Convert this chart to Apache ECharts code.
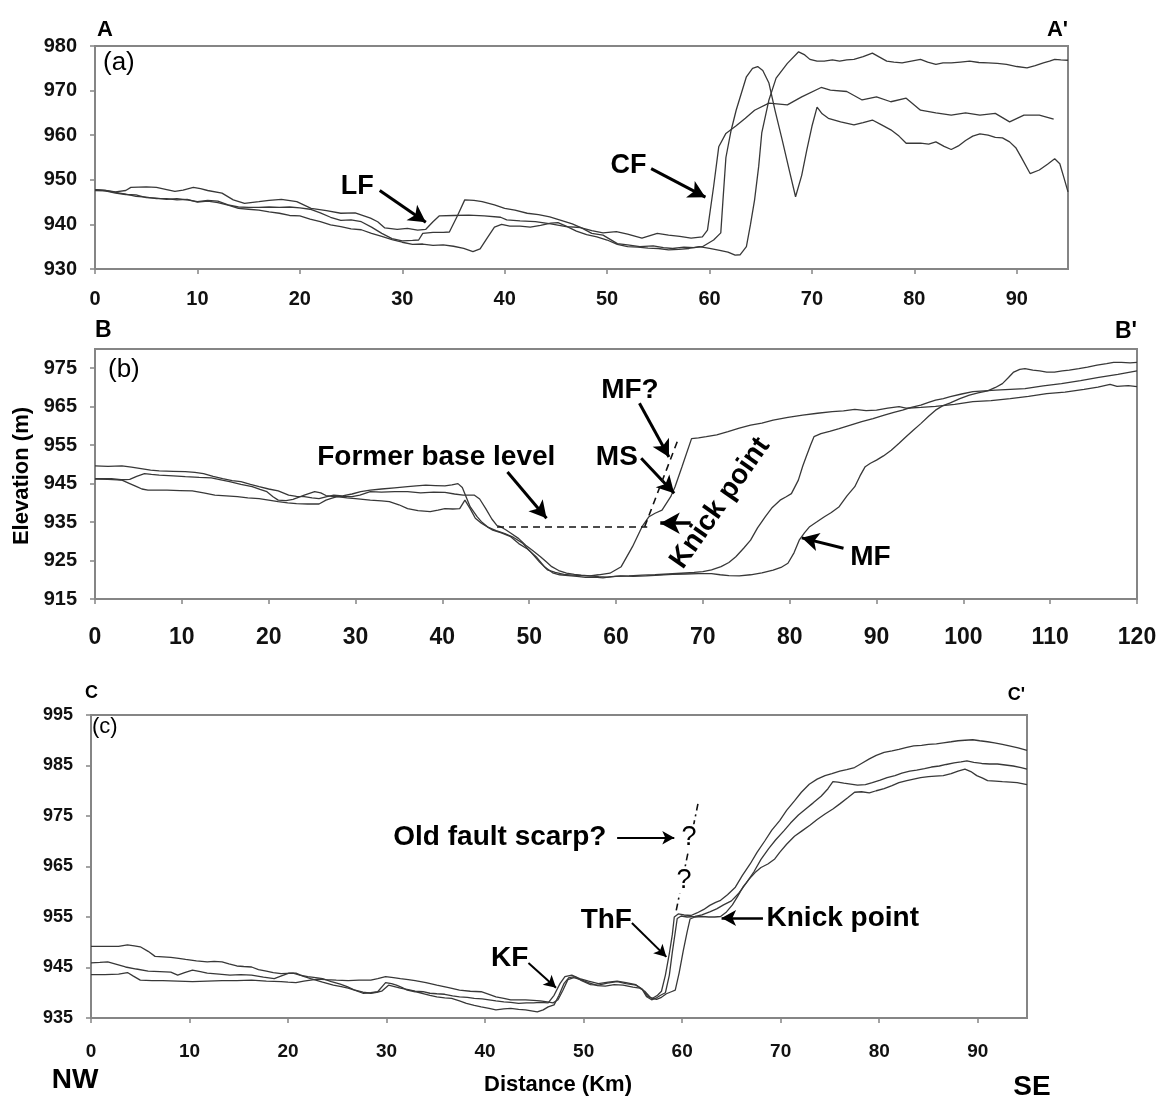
<!DOCTYPE html>
<html>
<head>
<meta charset="utf-8">
<script src="https://cdn.jsdelivr.net/npm/echarts@6/dist/echarts.min.js"></script>
<style>
  html, body { margin: 0; padding: 0; background: #fff; }
  #chart { width: 1160px; height: 1106px; }
</style>
</head>
<body>
<div id="chart"></div>
<script>
// Topographic profiles A-A', B-B', C-C' : [distance (km), elevation (m)]
const profileA1 = [[0,947.8],[1,947.6],[2,947.3],[3,947.6],[3.5,948.3],[5,948.4],[6,948.3],[7,947.8],[7.8,947.4],[8.6,947.7],[9.6,948.3],[10.3,948.0],[11,947.6],[12.4,947.0],[13.5,945.5],[14.6,944.7],[16,945.1],[17,945.4],[18.2,945.6],[19.7,945.1],[21.1,943.6],[22.6,943.1],[24,942.5],[25.4,942.6],[26.9,941.4],[27.6,940.6],[28.3,939.2],[29.5,938.9],[30.5,939.1],[31.5,938.7],[32.3,938.9],[33,940.6],[33.6,941.9],[35,942.0],[36.5,942.1],[38,941.9],[39.6,941.6],[40.2,941.0],[41.5,940.8],[43,940.6],[44.5,940.1],[46,939.5],[47.4,939.3],[48.5,938.6],[49.6,938.1],[50.9,938.4],[52,937.8],[53.4,936.9],[54.9,938.0],[56,937.6],[57.1,937.3],[58.2,936.9],[59.3,937.2],[59.8,938.7],[60.4,948.5],[60.9,957.4],[61.6,960.4],[62.6,962.1],[63.5,963.8],[64.4,965.6],[65.8,967.2],[67.6,966.8],[69.0,968.6],[70.9,970.7],[71.8,970.1],[73.4,969.8],[74.9,967.9],[76.3,968.6],[77.7,967.5],[79.2,968.3],[80.6,965.6],[82.1,965.0],[83.6,964.5],[85.0,965.0],[86.4,964.5],[87.9,964.9],[89.3,963.0],[90.7,964.5],[92.2,964.5],[93.6,963.6]];
const profileA2 = [[0,947.6],[1,947.5],[2,947.0],[3,946.7],[4,946.6],[5,946.0],[6,945.9],[7,945.6],[8,945.8],[9,945.5],[10,945.1],[11,945.4],[12,945.2],[13,944.4],[14,943.9],[15,943.8],[16,943.8],[17,943.9],[18,943.8],[19,943.9],[20,943.7],[21,943.4],[22,942.6],[23,941.6],[24,940.9],[25,941.0],[26,940.6],[27,939.4],[28,938.0],[29,936.8],[30,936.3],[31,936.4],[31.6,936.5],[32,938.0],[33,938.2],[34,938.2],[34.6,938.3],[35.4,942.0],[36.1,945.5],[37,945.4],[37.8,945.1],[39,944.4],[40,943.6],[41,943.2],[42.2,942.5],[43.3,942.2],[44.4,941.7],[45.5,940.9],[46.6,940.1],[47.6,939.1],[48.5,938.0],[49.6,937.6],[51,935.7],[52,935.4],[53.2,935.0],[54.5,935.2],[55.5,934.8],[56.4,934.6],[57.5,934.9],[58.5,934.8],[59.3,935.0],[60.4,936.5],[61.1,938.1],[61.3,945.0],[61.6,955.0],[62.1,961.0],[62.6,965.6],[63.6,973.1],[64.2,975.0],[64.7,975.4],[65.2,974.5],[65.8,971.7],[66.4,965.5],[67.1,958.9],[67.8,952.0],[68.4,946.2],[69.0,951.0],[69.5,956.7],[70.0,962.0],[70.5,966.3],[71.0,964.8],[71.6,963.8],[72.8,963.0],[74.1,962.3],[75.0,962.8],[75.9,963.4],[76.8,962.3],[77.7,961.2],[78.5,959.8],[79.2,958.2],[80.6,958.2],[81.4,958.0],[82.1,958.5],[82.9,957.5],[83.6,956.8],[84.3,957.6],[85.0,958.8],[85.7,959.8],[86.4,960.3],[87.2,960.0],[87.9,959.5],[88.6,959.4],[89.3,958.5],[89.9,957.2],[90.4,955.2],[91.3,951.4],[92.2,952.2],[93.0,953.5],[93.7,954.7],[94.2,953.6],[94.6,950.5],[95,947.3]];
const profileA3 = [[0,947.8],[1,947.6],[2,947.2],[3,946.8],[4,946.3],[5,946.1],[6,945.8],[7,945.8],[8,945.5],[9,945.6],[10,945.0],[11,945.2],[12,944.9],[13,944.3],[14,943.6],[15,943.4],[16,943.2],[17,942.8],[18,942.5],[19,942.0],[20,941.9],[21,941.2],[22,940.6],[23,939.9],[24,939.5],[25,939.0],[26,938.8],[27,938.0],[28,937.3],[29,936.6],[30,936.0],[31,935.5],[32,935.6],[33,935.3],[34,935.4],[35,935.1],[36,934.6],[36.9,933.9],[37.6,934.5],[38.3,937.0],[39,939.4],[39.7,940.0],[40.5,939.6],[41.5,939.6],[42.5,939.4],[43.5,939.8],[44.5,940.3],[45.2,940.4],[46,939.6],[47,938.5],[48,937.7],[49,937.2],[50,936.5],[51,935.5],[52,935.0],[53,934.9],[54,934.7],[55,934.6],[56,934.3],[57,934.4],[58,934.6],[59,935.0],[60,934.6],[61,934.2],[61.8,933.8],[62.5,933.1],[63,933.2],[63.6,935.0],[64.0,940.0],[64.4,945.5],[64.8,953.0],[65.1,960.5],[65.8,967.9],[66.5,972.8],[67.6,976.1],[68.7,978.7],[69.3,978.0],[69.8,977.0],[70.5,976.6],[71.2,976.6],[72.0,976.9],[72.7,976.6],[73.4,976.9],[74.1,977.0],[75.0,977.6],[75.9,978.4],[76.6,977.5],[77.3,976.6],[78.0,976.4],[78.8,976.2],[79.7,976.6],[80.6,977.0],[81.3,976.4],[82.1,975.9],[82.8,976.2],[83.6,976.2],[84.5,976.4],[85.4,976.6],[86.3,976.3],[87.2,976.2],[88.1,976.1],[89.0,975.9],[90.0,975.4],[91.0,975.1],[91.8,975.6],[92.6,976.2],[93.2,976.6],[93.7,977.0],[94.3,976.9],[95,976.8]];

const profileB1 = [[0,949.6],[1.5,949.5],[3.1,949.6],[4.2,949.3],[5.3,948.9],[6.4,948.5],[7.4,948.3],[9,948.2],[10.4,948.1],[11.5,947.9],[12.5,947.6],[13.6,946.9],[14.7,946.3],[15.8,945.8],[16.8,945.5],[17.9,944.8],[18.9,944.2],[20,943.6],[21.1,943.1],[22.3,942.0],[23.2,941.7],[24.1,941.6],[25,941.3],[25.8,941.1],[26.7,941.6],[27.5,942.0],[28.5,941.8],[29.6,942.3],[30.6,942.9],[31.7,943.3],[33,943.6],[34.5,943.9],[36,944.2],[37,944.4],[38.1,944.6],[39.2,944.5],[40.3,944.4],[41.1,944.7],[41.8,945.0],[42.3,944.0],[43.2,939.0],[44.0,936.4],[44.5,935.1],[45.3,933.6],[46.2,932.8],[47.2,932.0],[48.2,931.0],[49.2,929.6],[50.2,927.2],[51.2,924.6],[52.1,922.6],[53,921.9],[54,921.4],[55,921.2],[56,921.1],[57,921.0],[58,921.3],[59.3,921.7],[60.6,923.4],[61.9,928.6],[63.0,933.8],[63.8,936.4],[64.5,937.3],[65.3,938.1],[66.3,941.6],[66.8,944.2],[67.6,949.4],[68.7,956.7],[69.5,956.9],[70.4,957.2],[71.6,957.7],[72.9,958.5],[74.2,959.4],[75.5,960.2],[76.8,960.7],[78.1,961.5],[79.8,962.2],[81.5,962.8],[83.2,963.3],[84.9,963.7],[86.2,963.9],[87.5,964.3],[88.8,964.0],[90.0,964.1],[91.3,964.6],[92.6,965.0],[93.4,964.6],[95.1,964.8],[96.8,965.1],[99,965.6],[101.1,966.3],[103.2,966.6],[105.4,967.1],[107.5,967.7],[109.6,968.4],[111.7,968.8],[113.9,969.5],[115.5,970.1],[116.9,970.8],[117.7,970.3],[119,970.5],[120,970.2]];
const profileB2 = [[0,946.3],[1.9,946.3],[3,946.0],[4,946.1],[4.8,946.9],[5.7,947.6],[6.5,947.4],[7.4,947.2],[9,947.0],[10.4,946.8],[12,946.6],[13.4,946.5],[14.5,946.0],[15.5,945.5],[16.8,944.8],[18.1,944.2],[19,943.5],[19.8,942.9],[20.5,941.6],[21.1,940.7],[22,940.6],[22.8,940.9],[23.5,941.5],[24.1,942.0],[25.3,942.9],[26,942.6],[26.6,941.9],[27.3,941.7],[27.9,941.6],[29.6,941.6],[30.5,942.0],[31.7,942.9],[33,942.8],[34.5,942.9],[36,942.9],[37.5,942.6],[39,942.8],[40.3,942.7],[41.4,942.3],[42.4,942.0],[43.7,942.0],[44.3,941.0],[45.0,938.5],[45.7,935.8],[46.3,934.1],[46.7,933.8],[47.3,933.0],[47.9,932.1],[48.8,930.7],[49.6,929.0],[50.4,927.6],[51.3,926.0],[52.0,924.6],[52.6,923.4],[53.4,922.4],[54.3,921.7],[55.2,921.4],[56,921.2],[57,921.0],[58,920.8],[59,920.7],[60,920.9],[61.5,921.0],[63,921.2],[64.5,921.3],[66,921.5],[67.5,921.7],[69,921.9],[70,922.1],[71,922.6],[72.1,923.4],[73,924.5],[73.8,926.0],[74.7,928.2],[75.5,930.3],[76.3,933.5],[77.2,936.4],[78.0,938.8],[78.9,940.7],[79.6,941.6],[80.2,942.4],[81.0,945.9],[81.5,949.5],[81.9,952.0],[82.4,955.0],[82.8,957.2],[83.6,958.0],[84.6,958.6],[85.7,959.3],[87.0,960.2],[88.3,961.1],[89.6,961.9],[90.9,962.8],[92.0,963.5],[93.0,964.1],[94.0,964.8],[95.1,965.4],[96.0,966.1],[96.8,966.7],[97.7,967.1],[98.5,967.6],[99.8,968.3],[101.1,968.9],[102.4,969.1],[103.7,969.3],[105.4,969.5],[107.1,969.7],[109.2,970.4],[111.3,971.0],[113.5,971.8],[115.6,972.6],[117.8,973.4],[120,974.3]];
const profileB3 = [[0,946.2],[1.5,946.1],[3.1,945.9],[4,945.0],[4.8,944.2],[5.4,943.6],[6.1,943.3],[7.2,943.3],[8.3,943.3],[9.8,943.2],[11.2,943.1],[12.5,942.6],[13.8,942.0],[15.1,941.8],[16.4,941.6],[17.6,941.3],[18.9,941.1],[20,940.7],[21.1,940.3],[22.2,940.0],[23.2,939.8],[24.5,939.7],[25.8,939.7],[26.6,940.7],[27.3,941.2],[27.9,941.6],[29,941.3],[30,941.1],[31.7,940.7],[33,940.5],[33.9,940.3],[35,939.5],[36,938.5],[37.2,938.0],[38.6,937.7],[39.5,938.1],[40.3,938.5],[41.2,938.4],[42.0,938.5],[42.6,940.7],[43.2,938.5],[43.8,936.0],[44.5,934.7],[45.8,932.9],[46.8,932.2],[47.8,931.3],[48.8,929.4],[49.8,928.0],[50.8,926.0],[51.8,923.3],[52.7,921.8],[53.5,921.3],[54.5,921.1],[55.5,920.9],[56.5,920.6],[57.5,920.7],[58.5,920.5],[59.5,920.8],[60.5,921.0],[62,920.9],[63.5,921.0],[65,921.2],[66.5,921.4],[68,921.5],[69.5,921.6],[71,921.6],[72,921.3],[73,921.1],[74.2,921.0],[75.5,921.3],[76.8,921.8],[78.1,922.5],[79.0,923.2],[79.8,924.3],[80.5,927.0],[81.1,930.3],[81.7,932.2],[82.3,933.8],[83.1,935.0],[84.0,936.4],[84.8,937.5],[85.7,939.0],[86.6,941.8],[87.5,944.2],[88.1,947.0],[88.7,949.4],[89.3,950.3],[90.0,951.1],[90.8,952.2],[91.7,953.7],[92.6,955.5],[93.4,957.2],[94.2,958.8],[95.1,960.6],[96.0,962.5],[96.8,964.1],[97.6,965.2],[98.5,966.0],[99.6,967.1],[100.7,968.0],[101.7,968.6],[102.8,969.1],[103.7,970.0],[104.5,971.0],[105.2,972.6],[105.8,974.0],[106.5,974.7],[107.1,974.9],[108,974.5],[108.8,974.3],[109.6,974.0],[110.5,974.0],[111.4,974.3],[112.2,974.5],[113.3,974.9],[114.3,975.3],[115.4,975.8],[116.5,976.2],[117.3,976.5],[118.2,976.5],[119.2,976.4],[120,976.5]];

const profileC1 = [[0,949.2],[1.4,949.2],[2.8,949.2],[3.7,949.5],[4.4,949.3],[5,949.1],[5.8,948.2],[6.5,947.2],[7.3,947.1],[8.1,947.0],[8.9,946.8],[9.6,946.6],[10.7,946.3],[11.8,946.1],[12.5,946.2],[13.3,946.1],[14,945.7],[14.8,945.3],[15.5,945.2],[16.3,945.1],[17,944.6],[17.8,944.3],[18.5,944.0],[19.3,943.8],[20.5,943.9],[21.2,943.5],[22.0,943.2],[22.8,943.0],[23.5,942.8],[24.4,942.2],[25.3,941.7],[26,941.2],[26.8,940.5],[27.6,940.1],[28.4,939.9],[29.0,940.1],[29.5,940.3],[30.2,941.5],[30.8,941.2],[31.4,940.9],[32.2,940.6],[32.9,940.3],[33.7,940.2],[34.4,939.9],[35.1,939.8],[35.9,939.7],[36.7,939.4],[37.4,939.2],[38.2,939.1],[38.9,938.9],[39.7,938.8],[40.4,938.6],[41.1,938.4],[41.9,938.2],[42.6,938.1],[43.4,937.9],[44.2,938.0],[44.9,938.0],[45.6,938.1],[46.4,938.0],[47.0,939.5],[47.6,941.8],[48.1,943.2],[48.8,943.5],[49.6,942.8],[50.5,942.3],[51.5,941.8],[52.5,942.1],[53.4,942.3],[54.3,942.0],[55.3,941.6],[56.0,940.6],[56.5,939.3],[57.0,938.9],[57.5,939.5],[57.9,940.3],[58.3,943.5],[58.7,947.8],[59.0,951.5],[59.2,955.0],[59.6,955.6],[60.2,955.4],[60.9,955.3],[61.5,955.8],[62.2,956.5],[62.8,957.3],[63.4,957.9],[63.9,958.3],[64.6,959.4],[65.4,960.9],[66.1,963.2],[66.9,965.5],[67.6,967.8],[68.4,970.1],[69.1,972.2],[69.9,974.1],[70.6,976.1],[71.4,978.0],[72.1,979.7],[72.9,981.3],[73.7,982.3],[74.5,983.0],[75.2,983.4],[76.0,983.9],[76.7,984.2],[77.5,984.6],[78.2,985.4],[79.0,986.3],[79.7,987.0],[80.5,987.6],[81.3,987.9],[82.0,988.2],[82.8,988.6],[83.5,988.9],[84.3,989.0],[85.0,989.2],[85.8,989.3],[86.5,989.5],[87.3,989.7],[88.0,989.9],[88.7,990.0],[89.5,990.1],[90.2,989.9],[91.0,989.7],[91.7,989.5],[92.5,989.2],[93.2,988.9],[94.1,988.5],[95,988.0]];
const profileC2 = [[0,945.9],[0.9,946.0],[1.7,946.1],[2.6,945.6],[3.5,945.1],[4.6,944.7],[5.8,944.3],[7,944.2],[8.1,944.1],[8.8,943.5],[9.5,944.0],[10.3,944.5],[11.1,944.2],[11.8,943.9],[13,943.7],[14.1,943.5],[15.2,943.6],[16.3,943.5],[17.5,943.1],[18.6,942.8],[19.4,943.4],[20.1,943.9],[20.8,943.9],[21.5,943.3],[22.3,942.8],[23.5,942.1],[24.6,941.5],[25.4,941.2],[26.1,940.9],[26.9,940.4],[27.6,939.9],[28.4,940.0],[29.1,940.2],[29.9,942.0],[30.5,941.8],[31.0,941.5],[31.6,941.0],[32.1,940.5],[32.9,940.2],[33.6,939.9],[34.4,939.5],[35.1,939.2],[35.9,939.0],[36.6,938.9],[37.4,938.4],[38.1,937.9],[38.9,937.5],[39.6,937.2],[40.4,936.9],[41.1,936.6],[41.9,936.8],[42.6,936.9],[43.4,936.7],[44.1,936.6],[44.7,936.4],[45.3,936.2],[45.9,936.6],[46.4,937.2],[47.0,937.6],[47.5,939.5],[48.0,941.8],[48.5,943.0],[49.1,943.2],[49.8,942.4],[50.7,941.6],[51.5,941.5],[52.4,941.9],[53.4,942.2],[54.3,941.8],[55.3,941.5],[55.9,940.8],[56.4,939.2],[56.9,938.6],[57.4,939.0],[57.9,939.6],[58.3,940.0],[58.7,943.5],[59.0,948.0],[59.3,952.0],[59.5,954.7],[59.9,955.2],[60.5,955.0],[61.3,955.1],[62.0,955.4],[62.8,956.0],[63.5,956.6],[64.2,957.4],[65.0,958.2],[65.7,959.6],[66.5,961.7],[67.3,964.0],[68.0,966.4],[68.8,968.6],[69.5,970.3],[70.3,972.0],[71.0,973.6],[71.8,975.2],[72.6,976.5],[73.3,977.6],[74.1,978.9],[74.8,980.4],[75.3,981.8],[75.8,981.7],[76.4,981.5],[77.1,981.3],[77.8,981.1],[78.6,981.2],[79.3,981.6],[80.1,982.1],[80.8,982.6],[81.6,983.0],[82.3,983.5],[83.1,983.9],[83.8,984.1],[84.6,984.4],[85.3,984.7],[86.1,984.9],[86.8,985.2],[87.6,985.5],[88.3,985.7],[88.9,985.9],[89.6,985.6],[90.4,985.4],[91.2,985.3],[92.0,985.3],[92.8,985.1],[93.6,984.9],[94.4,984.6],[95,984.3]];
const profileC3 = [[0,943.6],[1.4,943.6],[2.8,943.7],[3.7,944.0],[4.3,943.3],[5,942.5],[6.2,942.4],[7.3,942.4],[8.8,942.3],[10.3,942.2],[11.8,942.3],[13.3,942.4],[14.8,942.4],[16.3,942.5],[17.8,942.3],[19.3,942.2],[20.0,942.1],[20.8,942.0],[21.6,942.3],[22.3,942.5],[23.0,942.7],[23.8,942.6],[24.9,942.5],[26.1,942.4],[27.2,942.5],[28.4,942.5],[29.1,942.8],[29.9,943.2],[30.7,943.0],[31.4,942.8],[32.2,942.6],[32.9,942.4],[34.0,942.0],[35.1,941.5],[36.3,941.0],[37.4,940.5],[38.5,940.3],[39.6,940.2],[40.4,939.7],[41.1,939.2],[41.9,938.9],[42.6,938.6],[43.4,938.6],[44.1,938.6],[44.9,938.5],[45.6,938.4],[46.3,938.2],[46.9,938.0],[47.4,938.6],[47.9,940.5],[48.4,942.6],[49.0,943.0],[49.7,942.6],[50.5,942.0],[51.4,941.4],[52.2,941.3],[53.1,941.6],[54.0,941.5],[55.0,941.1],[55.7,940.9],[56.2,940.3],[56.8,939.0],[57.4,938.7],[57.9,939.1],[58.4,939.8],[58.9,940.2],[59.3,940.5],[59.7,944.0],[60.1,948.2],[60.5,952.0],[60.8,954.6],[61.3,955.0],[62.0,955.1],[62.7,955.0],[63.3,955.0],[63.9,955.1],[64.5,956.0],[65.1,957.4],[65.6,959.0],[66.2,961.0],[66.8,962.5],[67.4,963.8],[68.0,964.8],[68.7,965.5],[69.4,966.5],[69.9,967.8],[70.6,969.4],[71.4,971.0],[72.2,972.1],[73.0,973.2],[73.7,974.3],[74.5,975.4],[75.3,976.4],[76.0,977.4],[76.8,978.6],[77.5,979.7],[78.2,979.8],[79.0,979.6],[79.7,980.0],[80.5,980.4],[81.3,981.0],[82.0,981.6],[82.8,982.0],[83.5,982.3],[84.2,982.6],[85.0,982.8],[85.7,982.9],[86.5,983.0],[87.3,983.4],[88.0,983.9],[88.7,984.3],[89.3,983.8],[89.9,983.0],[90.5,982.5],[91.0,982.0],[91.8,981.9],[92.5,981.8],[93.3,981.7],[94.0,981.6],[95,981.2]];

// Axis tick values
const ticksX95 = [0, 10, 20, 30, 40, 50, 60, 70, 80, 90];
const ticksX120 = [0, 10, 20, 30, 40, 50, 60, 70, 80, 90, 100, 110, 120];
const ticksYA = [930, 940, 950, 960, 970, 980];
const ticksYB = [915, 925, 935, 945, 955, 965, 975];
const ticksYC = [935, 945, 955, 965, 975, 985, 995];

const FONT = '"Liberation Sans", Arial, sans-serif';
const AXIS_GREY = '#858585';
const LINE_COLOR = '#383838';

const chart = echarts.init(document.getElementById('chart'), null, { renderer: 'canvas' });

function xAxisCfg(gi, max, ticks, fontSize, margin) {
  return {
    type: 'value', gridIndex: gi, min: 0, max: max, interval: 10,
    splitLine: { show: false },
    axisLine: { show: true, onZero: false, lineStyle: { color: AXIS_GREY, width: 2 } },
    axisTick: { show: true, length: 5, customValues: ticks, lineStyle: { color: AXIS_GREY, width: 1.5 } },
    axisLabel: { customValues: ticks, margin: margin, color: '#111', fontWeight: 'bold', fontSize: fontSize, fontFamily: FONT }
  };
}
function yAxisCfg(gi, min, max, ticks, fontSize) {
  return {
    type: 'value', gridIndex: gi, min: min, max: max, interval: 10,
    splitLine: { show: false },
    axisLine: { show: true, onZero: false, lineStyle: { color: AXIS_GREY, width: 2 } },
    axisTick: { show: true, length: 5, customValues: ticks, lineStyle: { color: AXIS_GREY, width: 1.5 } },
    axisLabel: { customValues: ticks, margin: 18, color: '#111', fontWeight: 'bold', fontSize: fontSize, fontFamily: FONT }
  };
}
function profile(data, gi) {
  return {
    type: 'line', xAxisIndex: gi, yAxisIndex: gi, data: data,
    showSymbol: false, symbol: 'none', silent: true, animation: false,
    lineStyle: { color: LINE_COLOR, width: 1.3 }
  };
}
// arrow from [x1,y1] to [x2,y2] in data units
function arrow(from, to, width) {
  return [
    { coord: from, symbol: 'none', lineStyle: { width: width, color: '#000', type: 'solid' } },
    { coord: to, symbol: 'arrow', symbolSize: [width * 4 + 2, width * 5 + 2] }
  ];
}
function guide(from, to, type) {
  return [
    { coord: from, symbol: 'none', lineStyle: { width: 1.6, color: '#111', type: type } },
    { coord: to, symbol: 'none' }
  ];
}
function marks(lines) {
  return { silent: true, animation: false, label: { show: false }, emphasis: { disabled: true }, data: lines };
}
function note(text, at, size, extra) {
  return Object.assign({
    name: text, coord: at, symbol: 'circle', symbolSize: 1,
    itemStyle: { color: 'rgba(0,0,0,0)' },
    label: Object.assign({ show: true, position: 'inside', formatter: '{b}', color: '#000',
      fontWeight: 'bold', fontSize: size, fontFamily: FONT }, extra || {})
  });
}
function notes(items) {
  return { silent: true, animation: false, emphasis: { disabled: true }, data: items };
}

const sA1 = profile(profileA1, 0);
const sA2 = profile(profileA2, 0);
const sA3 = profile(profileA3, 0);
sA1.markLine = marks([
  arrow([27.8, 947.6], [32.3, 940.5], 3),
  arrow([54.3, 952.5], [59.6, 946.1], 3)
]);
sA2.markPoint = notes([
  note('LF', [25.6, 948.4], 27),
  note('CF', [52.1, 953.1], 27)
]);

const sB1 = profile(profileB1, 1);
const sB2 = profile(profileB2, 1);
const sB3 = profile(profileB3, 1);
sB1.markLine = marks([
  arrow([47.5, 948.0], [52.0, 936.0], 3),
  arrow([62.7, 965.9], [66.1, 951.9], 3),
  arrow([62.9, 951.6], [66.7, 942.5], 3),
  arrow([68.6, 934.7], [65.1, 934.7], 3.5),
  arrow([86.2, 928.2], [81.4, 930.9], 3)
]);
sB2.markLine = marks([
  guide([46.3, 933.7], [63.6, 933.7], [7, 5]),
  guide([63.3, 933.8], [67.05, 955.9], [7, 5])
]);
sB3.markPoint = notes([
  note('Former base level', [39.3, 951.9], 28),
  note('MF?', [61.6, 969.3], 28),
  note('MS', [60.1, 951.9], 28),
  note('Knick point', [72.0, 939.9], 28, { rotate: 55 }),
  note('MF', [89.3, 925.9], 28)
]);

const sC1 = profile(profileC1, 2);
const sC2 = profile(profileC2, 2);
const sC3 = profile(profileC3, 2);
sC1.markLine = marks([
  arrow([53.4, 970.7], [59.2, 970.7], 2),
  arrow([54.9, 953.8], [58.4, 947.1], 2),
  arrow([68.2, 954.8], [64.0, 954.8], 2.5),
  arrow([44.4, 945.9], [47.2, 941.0], 2)
]);
sC2.markLine = marks([
  guide([59.4, 956.3], [61.6, 977.4], [7, 4, 2, 4])
]);
sC3.markPoint = notes([
  note('Old fault scarp?', [41.5, 970.7], 28),
  note('ThF', [52.3, 954.4], 28),
  note('Knick point', [76.3, 954.8], 28),
  note('KF', [42.5, 946.9], 28),
  note('?', [60.7, 970.7], 27, { fontWeight: 'normal', backgroundColor: '#fff' }),
  note('?', [60.2, 962.3], 27, { fontWeight: 'normal', backgroundColor: '#fff' })
]);

// free-standing text: section letters, panel tags, axis titles, directions
function txt(text, x, y, size, opts) {
  const o = opts || {};
  const el = {
    type: 'text', x: x, y: y, silent: true,
    style: {
      text: text, fill: '#000',
      fontSize: size, fontWeight: o.weight || 'bold',
      fontFamily: 'Liberation Sans',
      textAlign: o.align || 'left', textVerticalAlign: 'middle'
    }
  };
  if (o.rotation !== undefined) el.rotation = o.rotation;
  return el;
}

const option = {
  animation: false,
  backgroundColor: '#ffffff',
  grid: [
    { left: 95, top: 46, width: 973, height: 223, show: true, borderColor: AXIS_GREY, borderWidth: 2, backgroundColor: 'transparent' },
    { left: 95, top: 349, width: 1042, height: 250, show: true, borderColor: AXIS_GREY, borderWidth: 2, backgroundColor: 'transparent' },
    { left: 91, top: 715, width: 936, height: 303, show: true, borderColor: AXIS_GREY, borderWidth: 2, backgroundColor: 'transparent' }
  ],
  xAxis: [
    xAxisCfg(0, 95, ticksX95, 20, 20),
    xAxisCfg(1, 120, ticksX120, 23, 27),
    xAxisCfg(2, 95, ticksX95, 19, 24)
  ],
  yAxis: [
    yAxisCfg(0, 930, 980, ticksYA, 20),
    yAxisCfg(1, 915, 980, ticksYB, 20),
    yAxisCfg(2, 935, 995, ticksYC, 18)
  ],
  series: [sA1, sA2, sA3, sB1, sB2, sB3, sC1, sC2, sC3],
  graphic: [
    txt('A', 97, 30, 22),
    txt("A'", 1068, 30, 22, { align: 'right' }),
    txt('(a)', 103, 63, 26, { weight: 'normal' }),
    txt('B', 95, 331, 23),
    txt("B'", 1137, 332, 23, { align: 'right' }),
    txt('(b)', 108, 370, 26, { weight: 'normal' }),
    txt('C', 85, 693, 18),
    txt("C'", 1025, 695, 18, { align: 'right' }),
    txt('(c)', 92, 727, 22, { weight: 'normal' }),
    txt('Elevation (m)', 22, 476, 22, { align: 'center', rotation: Math.PI / 2 }),
    txt('Distance (Km)', 558, 1085, 22, { align: 'center' }),
    txt('NW', 75, 1080, 28, { align: 'center' }),
    txt('SE', 1032, 1087, 28, { align: 'center' })
  ]
};
chart.setOption(option);
</script>
</body>
</html>
